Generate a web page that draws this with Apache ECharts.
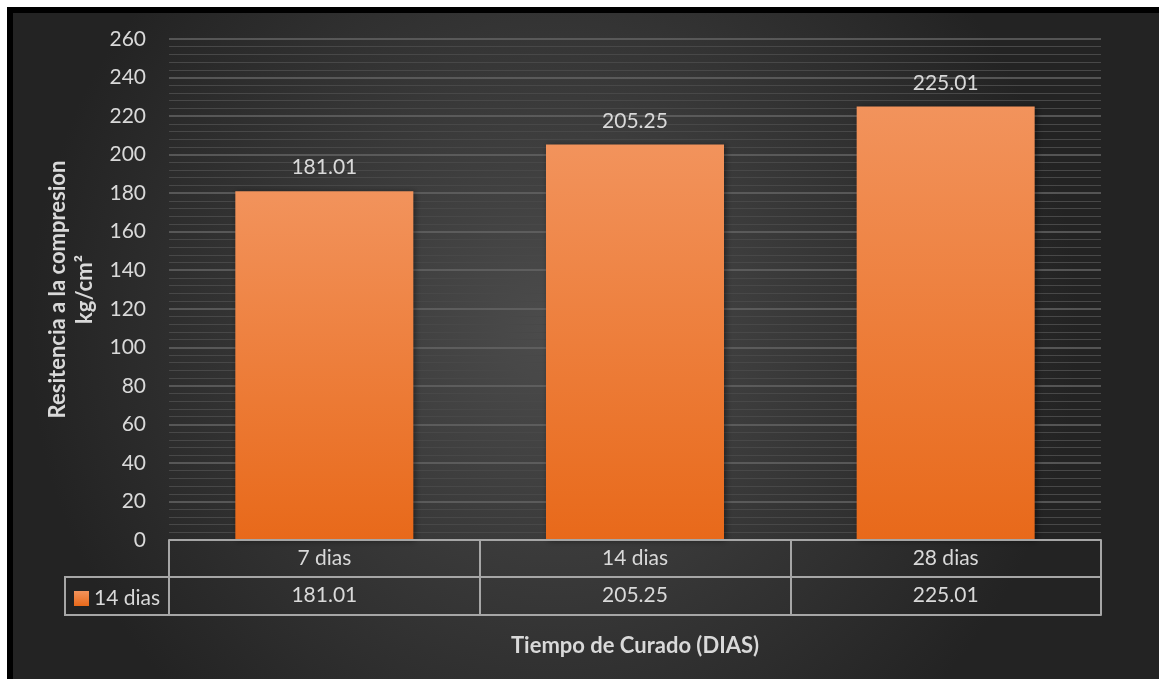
<!DOCTYPE html>
<html><head><meta charset="utf-8">
<script src="https://cdn.jsdelivr.net/npm/echarts@6/dist/echarts.min.js"></script>
<style>html,body{margin:0;padding:0;background:#fff;}#c{width:1159px;height:679px;}</style>
</head><body><div id="c"></div>
<script>
var categories = ['7 dias', '14 dias', '28 dias'];
var seriesName = '14 dias';
var values = [181.01, 205.25, 225.01];
var yMin = 0, yMax = 260, yStep = 20;

var FONT = 'Lato';
var TXT = '#d9d9d9';
var LINE = '#a6a6a6';
var chart = echarts.init(document.getElementById('c'));
var gridL = 169, gridR = 1159 - 1101, gridT = 39, gridB = 679 - 540;
var barGrad = {type: 'linear', x: 0, y: 0, x2: 0, y2: 1, colorStops: [{offset: 0, color: '#f2935c'}, {offset: 1, color: '#e8691a'}]};
chart.setOption({
  backgroundColor: '#ffffff',
  textStyle: {fontFamily: FONT},
  graphic: [
    {type: 'rect', z: -10, silent: true, shape: {x: 7, y: 7, width: 1200, height: 700}, style: {fill: '#000'}},
    {type: 'rect', z: -9, silent: true, shape: {x: 13, y: 13, width: 1200, height: 700},
      style: {fill: {type: 'radial', x: 0.45, y: 0.45, r: 0.75, colorStops: [
        {offset: 0, color: '#4c4c4c'}, {offset: 1, color: '#232323'}]}}},
    {type: 'rect', z: 5, silent: true, shape: {x: 65, y: 577, width: 104, height: 38},
      style: {fill: 'none', stroke: LINE, lineWidth: 2}}
  ],
  legend: {
    left: 74, top: 588, padding: 0, itemWidth: 15, itemHeight: 15, icon: 'rect', itemGap: 4,
    data: [{name: seriesName, itemStyle: {color: barGrad}}],
    textStyle: {color: TXT, fontSize: 21, fontFamily: FONT, padding: [0, 0, 0, 0]}
  },
  grid: {left: gridL, right: gridR, top: gridT, bottom: gridB, containLabel: false},
  xAxis: [
    {type: 'category', data: categories, position: 'bottom', offset: 0,
      axisLine: {show: true, lineStyle: {color: LINE, width: 2}},
      axisTick: {show: true, length: 75, lineStyle: {color: LINE, width: 2}},
      axisLabel: {color: TXT, fontSize: 21, fontFamily: FONT, margin: 7, lineHeight: 23},
      z: 5},
    {type: 'category', data: categories, position: 'bottom', offset: 37,
      axisLine: {show: true, lineStyle: {color: LINE, width: 2}},
      axisTick: {show: false},
      axisLabel: {color: TXT, fontSize: 21, fontFamily: FONT, margin: 7, lineHeight: 23,
        formatter: function (v, i) { return values[i].toFixed(2); }}},
    {type: 'category', data: categories, position: 'bottom', offset: 75,
      axisLine: {show: true, lineStyle: {color: LINE, width: 2}},
      axisTick: {show: false}, axisLabel: {show: false},
      name: 'Tiempo de Curado (DIAS)', nameLocation: 'middle', nameGap: 20,
      nameTextStyle: {color: TXT, fontSize: 22, fontWeight: 'bold', fontFamily: FONT}}
  ],
  yAxis: {
    type: 'value', min: yMin, max: yMax, interval: yStep,
    axisLine: {show: false}, axisTick: {show: false},
    axisLabel: {color: TXT, fontSize: 21, fontFamily: FONT, margin: 23},
    splitLine: {show: true, lineStyle: {color: '#666666', width: 1.5}},
    minorTick: {show: false, splitNumber: 5},
    minorSplitLine: {show: true, lineStyle: {color: '#484848', width: 1}},
    name: 'Resitencia a la compresion\nkg/cm²', nameLocation: 'middle', nameRotate: 90, nameGap: 68,
    nameTextStyle: {color: TXT, fontSize: 22, fontWeight: 'bold', fontFamily: FONT, lineHeight: 27, align: 'center'}
  },
  series: [{
    name: seriesName, type: 'bar', data: values, barWidth: '57.3%',
    itemStyle: {
      color: barGrad,
      shadowColor: 'rgba(0,0,0,0.45)', shadowBlur: 6, shadowOffsetX: 2, shadowOffsetY: 1
    },
    label: {show: true, position: 'top', distance: 13, color: TXT, fontSize: 21, fontFamily: FONT,
      formatter: function (p) { return p.value.toFixed(2); }}
  }]
});
</script></body></html>
